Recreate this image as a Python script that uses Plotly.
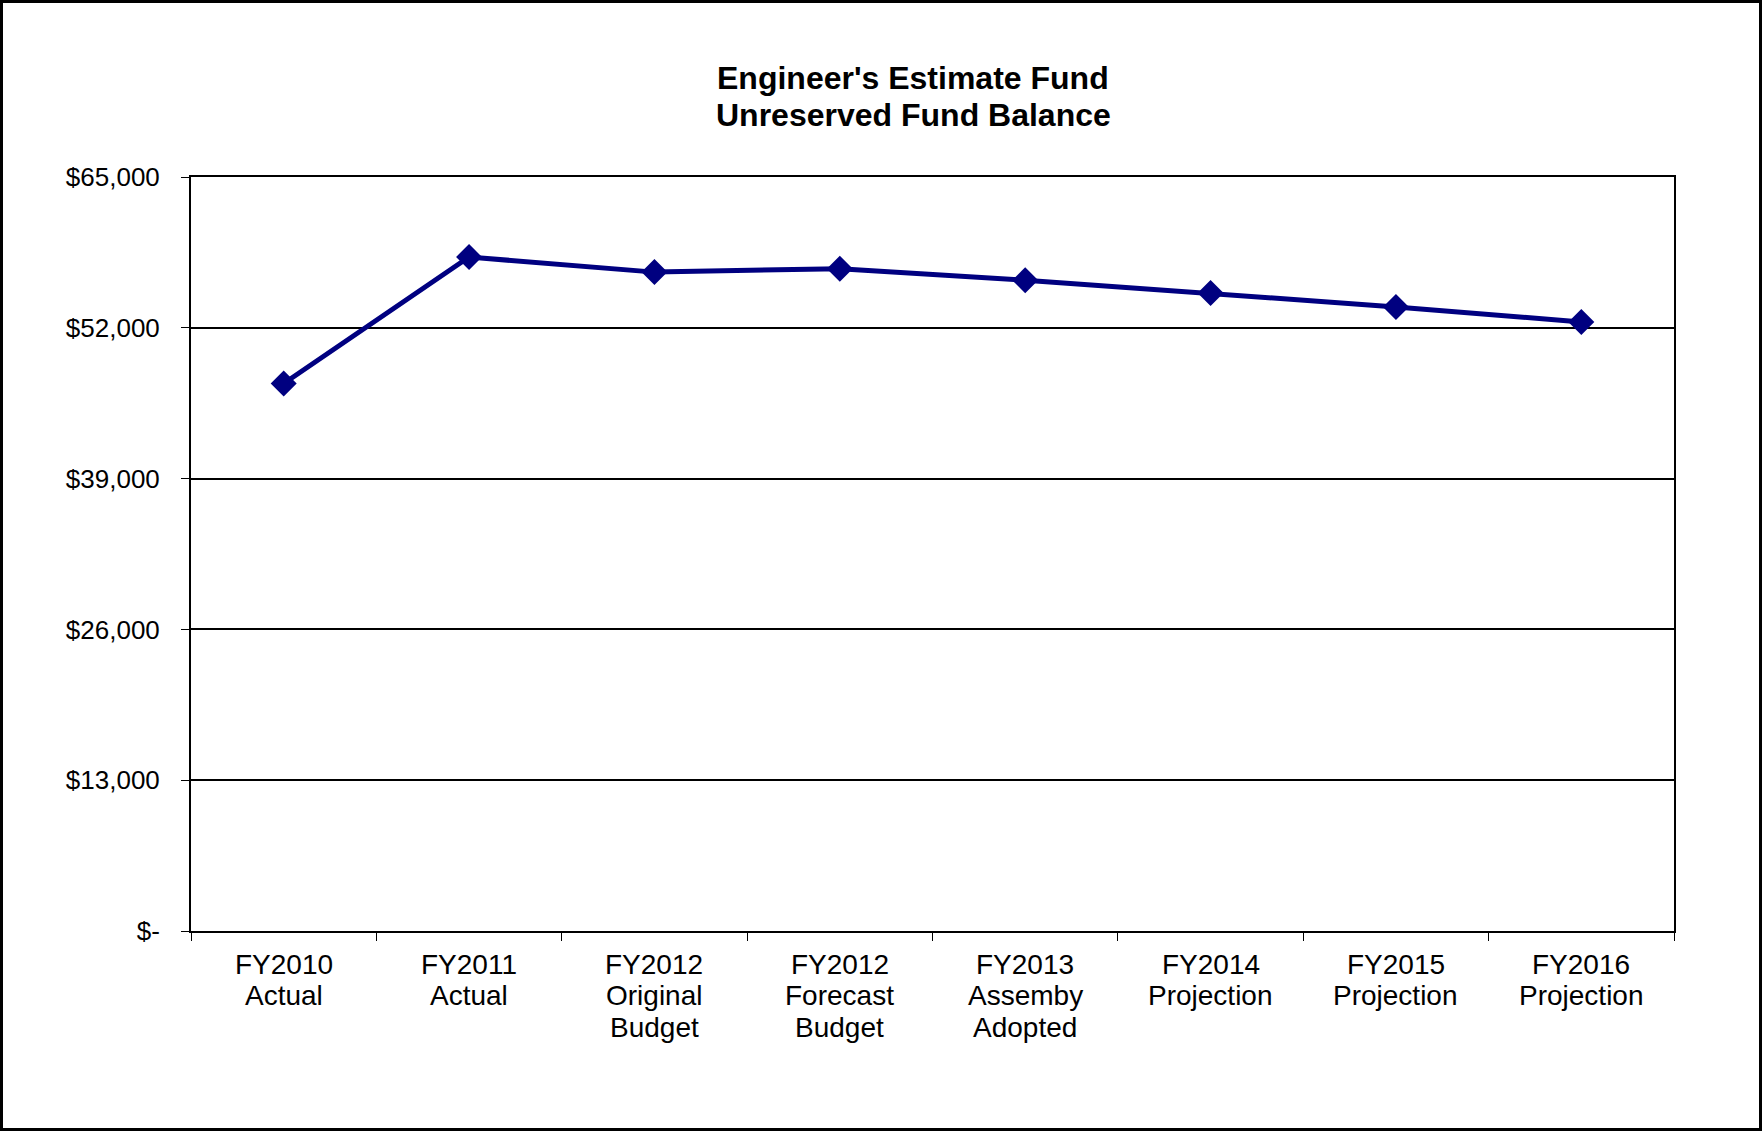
import plotly.graph_objects as go

categories = ["FY2010<br>Actual", "FY2011<br>Actual", "FY2012<br>Original<br>Budget",
              "FY2012<br>Forecast<br>Budget", "FY2013<br>Assemby<br>Adopted",
              "FY2014<br>Projection", "FY2015<br>Projection", "FY2016<br>Projection"]
balance = [47200, 58100, 56800, 57100, 56100, 55000, 53800, 52500]
y_tickvals = [0, 13000, 26000, 39000, 52000, 65000]
y_ticktext = ["$-", "$13,000", "$26,000", "$39,000", "$52,000", "$65,000"]
title_lines = ["Engineer's Estimate Fund", "Unreserved Fund Balance"]

W, H = 1762, 1131
L, R, T, B = 191, 88, 177, 200
pw, ph = W - L - R, H - T - B

fig = go.Figure()
fig.add_trace(go.Scatter(
    x=categories, y=balance, mode="lines+markers",
    line=dict(color="#000080", width=5),
    marker=dict(symbol="diamond", size=20, color="#000080"),
    showlegend=False,
))

font = "Liberation Sans, Arial, sans-serif"
fig.update_layout(
    width=W, height=H,
    margin=dict(l=L, r=R, t=T, b=B),
    paper_bgcolor="white", plot_bgcolor="white",
    font=dict(family=font, color="black"),
    xaxis=dict(
        type="category", tickson="boundaries", ticks="outside", ticklen=8,
        tickcolor="black", tickwidth=1,
        showline=True, linecolor="black", linewidth=2, mirror=True,
        showgrid=False, showticklabels=False,
        range=[-0.5, 7.5],
    ),
    yaxis=dict(
        range=[0, 65000], tickvals=y_tickvals, ticktext=y_ticktext,
        ticks="outside", ticklen=8, tickcolor="black", tickwidth=1,
        showline=True, linecolor="black", linewidth=2, mirror=True,
        showgrid=True, gridcolor="black", gridwidth=2,
        zeroline=False,
        tickfont=dict(size=26, family=font, color="black"),
        ticklabelstandoff=16,
    ),
)

# category labels, one annotation per text line (tighter line spacing)
for cat in categories:
    for k, part in enumerate(cat.split("<br>")):
        fig.add_annotation(
            text=part, x=cat, xref="x", yref="paper", y=0,
            yshift=-(33 + 31.5 * k), xanchor="center", yanchor="middle",
            showarrow=False, font=dict(size=28, family=font, color="black"),
        )

title_y = [78, 115]
for line, yc in zip(title_lines, title_y):
    fig.add_annotation(
        text="<b>" + line + "</b>",
        xref="paper", yref="paper",
        x=(913 - L) / pw, y=1 + (T - yc) / ph,
        xanchor="center", yanchor="middle", showarrow=False,
        font=dict(size=32, family=font, color="black"),
    )

fig.add_shape(
    type="rect", xref="paper", yref="paper",
    x0=-(L - 1.5) / pw, x1=1 + (R - 1.5) / pw,
    y0=-(B - 1.5) / ph, y1=1 + (T - 1.5) / ph,
    line=dict(color="black", width=3), layer="above",
)

fig.write_html("out.html", config={"displayModeBar": False},
               post_script="document.body.style.margin='0';")
